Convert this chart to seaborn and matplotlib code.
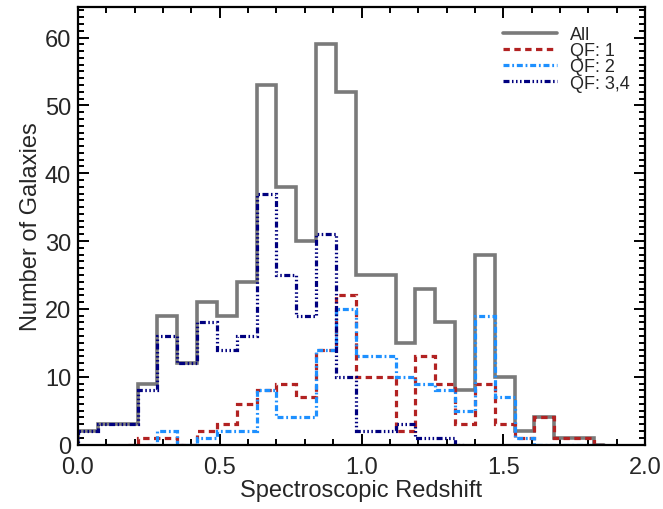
import numpy as np
import pandas as pd
import matplotlib
matplotlib.use("Agg")
import matplotlib.pyplot as plt
import seaborn as sns
from matplotlib.ticker import MultipleLocator

# ---- data (histogram counts per redshift bin of width 0.07) ----
BIN_WIDTH = 0.07
# index of first bin listed for each series (bin k spans [0.07k, 0.07(k+1)])
all_first = -1
all_counts = [0, 2, 3, 3, 9, 19, 12, 21, 19, 24, 53, 38, 30, 59, 52, 25, 25, 15,
              23, 18, 8, 28, 10, 2, 4, 1, 1, 0]
qf1_first = 2
qf1_counts = [0, 1, 1, 0, 2, 3, 6, 8, 9, 7, 14, 22, 10, 10, 2, 13, 9, 3, 9, 3,
              1, 4, 1, 1, 0]
qf2_first = 3
qf2_counts = [0, 2, 0, 1, 2, 2, 8, 4, 4, 14, 20, 13, 13, 10, 9, 8, 5, 19, 7, 1,
              0, 0, 0, 0]
qf34_first = -1
qf34_counts = [0, 2, 3, 3, 8, 16, 12, 18, 14, 16, 37, 25, 19, 31, 10, 2, 2, 3,
               1, 1, 0]

labels = ["All", "QF: 1", "QF: 2", "QF: 3,4"]
colors = ["#7a7a7a", "#b22222", "#1e90ff", "#00007f"]

series = [(all_first, all_counts), (qf1_first, qf1_counts),
          (qf2_first, qf2_counts), (qf34_first, qf34_counts)]

sns.set_style("ticks")
plt.rcParams["font.family"] = ["Liberation Sans", "DejaVu Sans"]
plt.rcParams["lines.scale_dashes"] = False

fig = plt.figure(figsize=(6.63, 5.10), dpi=100)
ax = fig.add_axes([0.1176, 0.1263, 0.9729 - 0.1176, 0.9843 - 0.1263])

styles = [
    dict(linestyle="-", lw=2.6),
    dict(linestyle=(0, (4.6, 3.2)), lw=2.3),
    dict(linestyle=(0, (4.3, 2.0, 1.3, 2.0)), lw=2.3),
    dict(linestyle=(0, (4.3, 1.8, 1.1, 1.8, 1.1, 1.8, 1.1, 1.8)), lw=2.3),
]

for (first, counts), lab, col, st in zip(series, labels, colors, styles):
    idx = first + np.arange(len(counts))
    df = pd.DataFrame({"z": (idx + 0.5) * BIN_WIDTH, "n": counts})
    sns.lineplot(data=df, x="z", y="n", ax=ax, color=col, label=lab,
                 drawstyle="steps-mid", solid_joinstyle="miter",
                 dash_joinstyle="miter", **st)

ax.set_xlim(0, 2.0)
ax.set_ylim(0, 64.5)
ax.xaxis.set_major_locator(MultipleLocator(0.5))
ax.xaxis.set_minor_locator(MultipleLocator(0.1))
ax.yaxis.set_major_locator(MultipleLocator(10))
ax.yaxis.set_minor_locator(MultipleLocator(1))
ax.xaxis.set_major_formatter(matplotlib.ticker.FormatStrFormatter("%.1f"))
ax.tick_params(which="both", direction="in", top=True, right=True,
               width=1.4, color="black")
ax.tick_params(which="major", length=8, labelsize=17)
ax.tick_params(axis="x", which="major", pad=8)
ax.tick_params(axis="y", which="major", pad=5)
ax.tick_params(which="minor", length=4.5)
for sp in ax.spines.values():
    sp.set_linewidth(1.6)
    sp.set_color("black")

ax.set_xlabel("Spectroscopic Redshift", fontsize=17, labelpad=1)
ax.set_ylabel("Number of Galaxies", fontsize=17, labelpad=2)

leg = ax.legend(loc="upper right", frameon=False, fontsize=13,
                handlelength=3.0, handletextpad=0.7, labelspacing=-0.05,
                borderaxespad=0.3, bbox_to_anchor=(0.995, 0.985))

fig.savefig("out.png", dpi=100)
